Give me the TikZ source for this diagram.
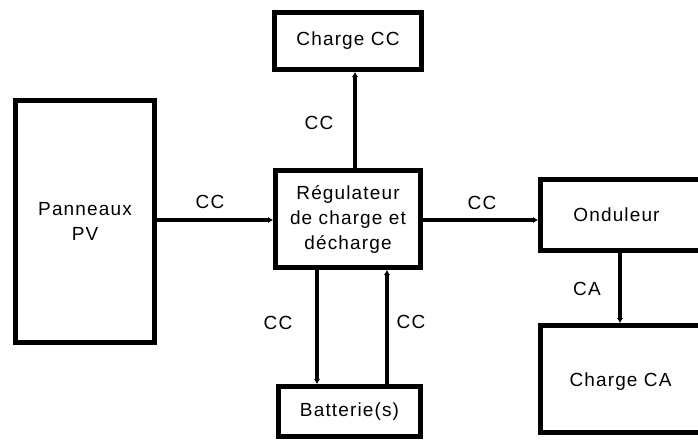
\documentclass[tikz,border=0pt]{standalone}
\usepackage{fontspec}
\setmainfont{Liberation Sans}[LetterSpace=6]
\usepackage{tikz}
\usetikzlibrary{arrows.meta}

\begin{document}
\begin{tikzpicture}[x=1pt, y=-1pt,
    box/.style={draw, line width=5pt, align=center, inner sep=0pt},
    flow/.style={line width=3.5pt, -{Latex[length=5pt, width=6.5pt]}},
    lbl/.style={inner sep=0pt},
    font=\fontsize{19}{25}\selectfont]

    % Page frame (boxes on the right run past the edge)
    \useasboundingbox (0,0) rectangle (698,439);
    \clip (0,0) rectangle (698,439);

    % Blocks
    \node[box, minimum width=139pt, minimum height=242pt] (pv) at (85,221.5) {Panneaux\\PV};
    \node[box, minimum width=147pt, minimum height=57pt] (chcc) at (348,41) {Charge CC};
    \node[box, minimum width=145pt, minimum height=97pt] (reg) at (348,219) {Régulateur\\de charge et\\décharge};
    \node[box, minimum width=142pt, minimum height=50pt] (bat) at (349.5,411.5) {Batterie(s)};

    % Right-hand blocks, text shifted since the boxes are cut off
    \node[box, minimum width=200pt, minimum height=71pt,
          label={[xshift=-24pt]center:Onduleur}] (ond) at (640.5,215) {};
    \node[box, minimum width=200pt, minimum height=107pt,
          label={[xshift=-20pt, yshift=-3pt]center:Charge CA}] (chca) at (640.5,379) {};

    % Connectors
    \draw[flow] (pv.east |- 0,220) -- (reg.west |- 0,220);
    \draw[flow] (reg.east |- 0,220) -- (ond.west |- 0,220);
    \draw[flow] ([xshift=7pt]reg.north) -- ([xshift=7pt]chcc.south);
    \draw[flow] ([xshift=-31pt]reg.south) -- (bat.north -| 317,0);
    \draw[flow] (bat.north -| 387,0) -- ([xshift=39pt]reg.south);
    \draw[flow] (ond.south -| 620,0) -- (chca.north -| 620,0);

    % Labels on the links
    \node[lbl] (l1) at (210,202) {CC};
    \node[lbl] (l2) at (482,203) {CC};
    \node[lbl] (l3) at (319,123) {CC};
    \node[lbl] (l4) at (278,323) {CC};
    \node[lbl] (l5) at (411,322) {CC};
    \node[lbl] (l6) at (587,289) {CA};
\end{tikzpicture}
\end{document}
